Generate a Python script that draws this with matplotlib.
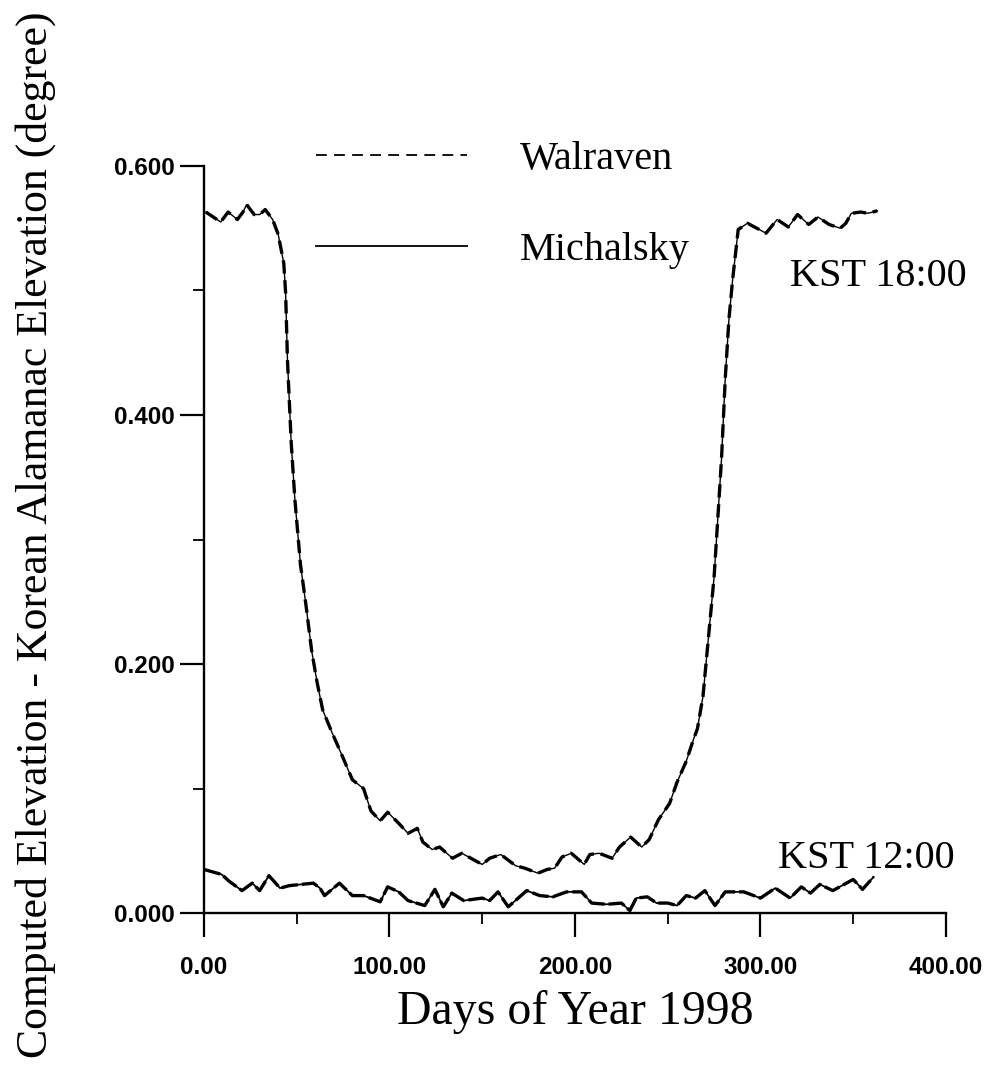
import matplotlib
matplotlib.use("Agg")
import matplotlib.pyplot as plt
from matplotlib.ticker import MultipleLocator, FormatStrFormatter
from matplotlib.lines import Line2D

# ---- data ----
days_18 = [1, 9, 13, 18, 21, 23, 27, 30, 33, 37, 40, 43, 44, 45, 47, 49, 52, 55, 58, 61,
           64, 69, 74, 80, 86, 90, 95, 99, 105, 110, 115, 118, 123, 127, 134, 139, 150,
           154, 160, 168, 173, 180, 185, 189, 193, 198, 205, 208, 213, 220, 224, 230,
           236, 240, 245, 251, 255, 260, 264, 266, 269, 272, 275, 277, 279, 281, 283,
           285, 288, 293, 303, 309, 315, 320, 326, 331, 337, 343, 346, 349, 354, 358, 363]
walraven_18 = [0.563, 0.555, 0.563, 0.557, 0.563, 0.569, 0.561, 0.561, 0.565, 0.557, 0.545,
               0.522, 0.498, 0.444, 0.378, 0.332, 0.280, 0.247, 0.211, 0.185, 0.163, 0.145,
               0.128, 0.107, 0.100, 0.082, 0.074, 0.081, 0.072, 0.064, 0.068, 0.057, 0.051,
               0.053, 0.044, 0.048, 0.039, 0.044, 0.047, 0.038, 0.036, 0.032, 0.035, 0.036,
               0.045, 0.048, 0.039, 0.047, 0.048, 0.044, 0.053, 0.061, 0.053, 0.059, 0.075,
               0.088, 0.105, 0.122, 0.140, 0.148, 0.174, 0.222, 0.270, 0.317, 0.365, 0.429,
               0.477, 0.509, 0.549, 0.554, 0.546, 0.557, 0.551, 0.561, 0.553, 0.559, 0.553,
               0.550, 0.554, 0.562, 0.563, 0.562, 0.564]
michalsky_18 = [0.563, 0.555, 0.563, 0.557, 0.563, 0.569, 0.561, 0.561, 0.565, 0.557, 0.545,
                0.522, 0.498, 0.444, 0.378, 0.332, 0.280, 0.247, 0.211, 0.185, 0.163, 0.145,
                0.128, 0.107, 0.100, 0.082, 0.074, 0.081, 0.072, 0.064, 0.068, 0.057, 0.051,
                0.053, 0.044, 0.048, 0.039, 0.044, 0.047, 0.038, 0.036, 0.032, 0.035, 0.036,
                0.045, 0.048, 0.039, 0.047, 0.048, 0.044, 0.053, 0.061, 0.053, 0.059, 0.075,
                0.088, 0.105, 0.122, 0.140, 0.148, 0.174, 0.222, 0.270, 0.317, 0.365, 0.429,
                0.477, 0.509, 0.549, 0.554, 0.546, 0.557, 0.551, 0.561, 0.553, 0.559, 0.553,
                0.550, 0.554, 0.562, 0.563, 0.562, 0.564]

days_12 = [0, 9.5, 14, 20.5, 26, 30, 35, 41, 46, 59, 62.5, 65, 73, 80, 86, 95, 99, 105, 110,
           119, 124.5, 129, 133.6, 140, 150, 154, 158.5, 164, 174, 181, 188, 195.5, 203.5,
           209, 217, 225, 229.6, 233, 239, 244, 250, 255, 260, 265, 270, 275.5, 281, 291,
           300, 308, 316, 322, 327, 332, 339, 350, 355, 361]
walraven_12 = [0.035, 0.031, 0.025, 0.018, 0.024, 0.018, 0.030, 0.020, 0.022, 0.024, 0.020,
               0.014, 0.024, 0.014, 0.014, 0.009, 0.021, 0.017, 0.010, 0.006, 0.019, 0.005,
               0.016, 0.010, 0.012, 0.010, 0.017, 0.005, 0.018, 0.014, 0.013, 0.017, 0.017,
               0.008, 0.007, 0.008, 0.002, 0.012, 0.013, 0.008, 0.008, 0.006, 0.014, 0.012,
               0.018, 0.006, 0.017, 0.017, 0.012, 0.020, 0.012, 0.021, 0.016, 0.023, 0.018,
               0.027, 0.019, 0.029]
michalsky_12 = [0.035, 0.031, 0.025, 0.018, 0.024, 0.018, 0.030, 0.020, 0.022, 0.024, 0.020,
                0.014, 0.024, 0.014, 0.014, 0.009, 0.021, 0.017, 0.010, 0.006, 0.019, 0.005,
                0.016, 0.010, 0.012, 0.010, 0.017, 0.005, 0.018, 0.014, 0.013, 0.017, 0.017,
                0.008, 0.007, 0.008, 0.002, 0.012, 0.013, 0.008, 0.008, 0.006, 0.014, 0.012,
                0.018, 0.006, 0.017, 0.017, 0.012, 0.020, 0.012, 0.021, 0.016, 0.023, 0.018,
                0.027, 0.019, 0.029]

series_labels = ["Walraven", "Michalsky"]
x_label = "Days of Year 1998"
y_label = "Computed Elevation - Korean Alamanac Elevation (degree)"

# ---- figure ----
fig = plt.figure(figsize=(9.86, 10.66), dpi=100)
ax = fig.add_axes([0.2069, 0.1435, 0.7525, 0.7008])

serif = ["Liberation Serif", "DejaVu Serif"]
sans = ["Liberation Sans", "DejaVu Sans"]

ax.plot(days_18, michalsky_18, color="black", lw=1.0, ls="-")
ax.plot(days_12, michalsky_12, color="black", lw=1.3, ls="-")
ax.plot(days_18, walraven_18, color="black", lw=2.4, ls=(0, (4, 2)))
ax.plot(days_12, walraven_12, color="black", lw=2.4, ls=(0, (5, 1.2)))

ax.set_xlim(0, 400)
ax.set_ylim(0, 0.6)
for s in ["top", "right"]:
    ax.spines[s].set_visible(False)
for s in ["left", "bottom"]:
    ax.spines[s].set_linewidth(1.7)

ax.xaxis.set_major_locator(MultipleLocator(100))
ax.xaxis.set_minor_locator(MultipleLocator(50))
ax.yaxis.set_major_locator(MultipleLocator(0.2))
ax.yaxis.set_minor_locator(MultipleLocator(0.1))
ax.xaxis.set_major_formatter(FormatStrFormatter("%.2f"))
ax.yaxis.set_major_formatter(FormatStrFormatter("%.3f"))
ax.tick_params(which="major", direction="out", length=17, width=1.6)
ax.tick_params(which="minor", direction="out", length=8, width=1.3)
ax.tick_params(axis="x", which="major", pad=14)
ax.tick_params(axis="y", which="major", pad=4)
for lab in ax.get_xticklabels() + ax.get_yticklabels():
    lab.set_family(sans)
    lab.set_fontweight("bold")
    lab.set_fontsize(17.5)

ax.set_xlabel(x_label, family=serif, fontsize=34.5, labelpad=8)
ax.set_ylabel(y_label, family=serif, fontsize=31.5)
ax.yaxis.set_label_coords(-0.199, 0.506)

handles = [Line2D([], [], color="black", lw=1.3, ls=(0, (6, 4))),
           Line2D([], [], color="black", lw=1.3, ls="-")]
ax.legend(handles, series_labels, loc="upper left", bbox_to_anchor=(0.151, 1.034),
          frameon=False, prop={"family": serif, "size": 29}, handlelength=3.75,
          handletextpad=1.3, labelspacing=1.35, borderpad=0, borderaxespad=0)

ax.text(316, 0.511, "KST 18:00", family=serif, fontsize=29, ha="left", va="center")
ax.text(309.5, 0.044, "KST 12:00", family=serif, fontsize=29, ha="left", va="center")

fig.savefig("out.png", dpi=100)
